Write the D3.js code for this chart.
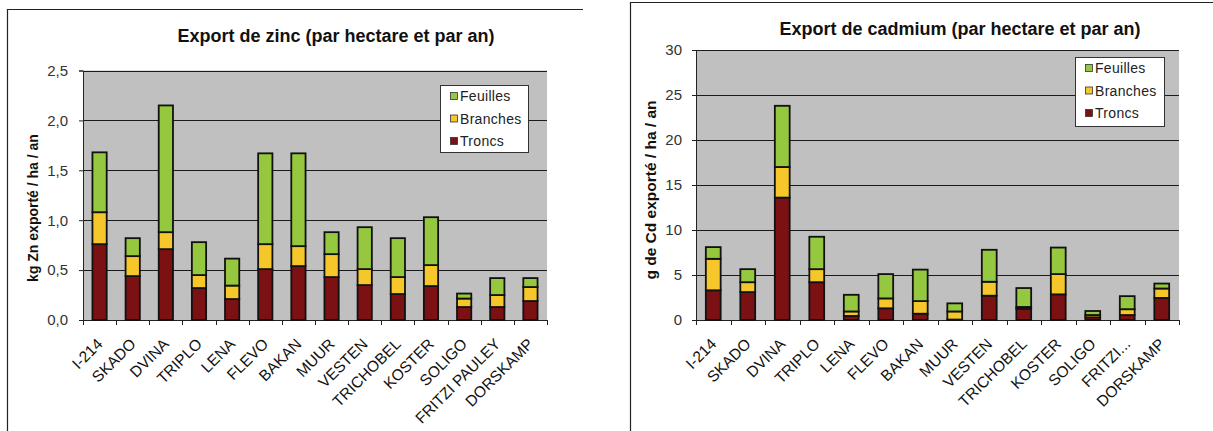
<!DOCTYPE html>
<html><head><meta charset="utf-8">
<script src="https://cdn.jsdelivr.net/npm/d3@7"></script>
<style>
html,body{margin:0;padding:0;background:#fff;}
svg{display:block;font-family:Arial,"Liberation Sans",sans-serif;}
</style></head>
<body>
<svg id="c" width="1213" height="431"></svg>
<script>
const categories = ["I-214","SKADO","DVINA","TRIPLO","LENA","FLEVO","BAKAN","MUUR","VESTEN","TRICHOBEL","KOSTER","SOLIGO","FRITZI PAULEY","DORSKAMP"];
const categoriesCd = ["I-214","SKADO","DVINA","TRIPLO","LENA","FLEVO","BAKAN","MUUR","VESTEN","TRICHOBEL","KOSTER","SOLIGO","FRITZI...","DORSKAMP"];
const seriesNames = ["Troncs","Branches","Feuilles"];

const zincTroncs   = [0.76,0.44,0.71,0.32,0.21,0.51,0.54,0.43,0.35,0.26,0.34,0.13,0.13,0.19];
const zincBranches = [0.32,0.20,0.17,0.13,0.135,0.25,0.20,0.23,0.16,0.17,0.21,0.085,0.12,0.14];
const zincFeuilles = [0.60,0.18,1.27,0.33,0.27,0.91,0.93,0.22,0.42,0.39,0.48,0.05,0.17,0.09];

const cdTroncs   = [3.3,3.1,13.6,4.2,0.45,1.3,0.7,0.05,2.7,1.25,2.85,0.3,0.55,2.45];
const cdBranches = [3.5,1.1,3.4,1.45,0.5,1.1,1.4,0.9,1.55,0.2,2.25,0.25,0.65,1.05];
const cdFeuilles = [1.3,1.45,6.8,3.6,1.85,2.7,3.5,0.9,3.55,2.1,2.95,0.45,1.45,0.55];

const zincTicks = [0,0.5,1.0,1.5,2.0,2.5];
const zincTickLabels = ["0,0","0,5","1,0","1,5","2,0","2,5"];
const cdTicks = [0,5,10,15,20,25,30];
const cdTickLabels = ["0","5","10","15","20","25","30"];

const colors = {Troncs:"#7c1114", Branches:"#f6c72a", Feuilles:"#95c83e"};

const svg = d3.select("#c");

// chart frames
svg.append("path").attr("d","M7.5,431 V9.5 H583").attr("fill","none").attr("stroke","#222").attr("stroke-width",1.2);
svg.append("path").attr("d","M630.5,431 V2.5 H1213").attr("fill","none").attr("stroke","#222").attr("stroke-width",1.2);

function drawChart(opt){
  const g = svg.append("g");
  const x = d3.scaleBand().domain(opt.cats).range([opt.x0,opt.x1]).paddingInner(0.57).paddingOuter(0.285);
  const xb = d3.scaleLinear().domain([0,opt.cats.length]).range([opt.x0,opt.x1]);
  const y = d3.scaleLinear().domain([0,opt.max]).range([opt.y0,opt.y1]);

  g.append("rect").attr("x",opt.x0).attr("y",opt.y1).attr("width",opt.x1-opt.x0).attr("height",opt.y0-opt.y1).attr("fill","#c0c0c0");

  // grid
  g.selectAll(".grid").data(opt.ticks.filter(t=>t>0)).join("line")
    .attr("x1",opt.x0).attr("x2",opt.x1)
    .attr("y1",d=>Math.round(y(d))+0.5).attr("y2",d=>Math.round(y(d))+0.5)
    .attr("stroke","#1a1a1a").attr("stroke-width",1);

  // y axis
  const yAxis = d3.axisLeft(y).tickValues(opt.ticks).tickFormat((d,i)=>opt.tickLabels[i]).tickSize(4).tickPadding(opt.tickPad);
  const ya = g.append("g").attr("transform",`translate(${opt.x0},0)`).call(yAxis);
  ya.select(".domain").attr("stroke","#222");
  ya.selectAll(".tick line").attr("stroke","#222");
  ya.selectAll("text").attr("font-size",15).attr("fill","#333").attr("font-family","Arial, 'Liberation Sans', sans-serif");

  // x axis baseline & ticks
  g.append("line").attr("x1",opt.x0).attr("x2",opt.x1).attr("y1",opt.y0+0.5).attr("y2",opt.y0+0.5).attr("stroke","#222");
  g.selectAll(".xt").data(d3.range(opt.cats.length+1)).join("line")
    .attr("x1",d=>Math.round(xb(d))+0.5).attr("x2",d=>Math.round(xb(d))+0.5)
    .attr("y1",opt.y0).attr("y2",opt.y0+5).attr("stroke","#222");

  // stacks
  const rows = opt.cats.map((c,i)=>({cat:c, Troncs:opt.tr[i], Branches:opt.br[i], Feuilles:opt.fe[i]}));
  const stack = d3.stack().keys(seriesNames)(rows);
  g.selectAll(".layer").data(stack).join("g").attr("fill",d=>colors[d.key])
    .selectAll("rect").data(d=>d).join("rect")
    .attr("x",d=>x(d.data.cat)).attr("width",x.bandwidth())
    .attr("y",d=>y(d[1])).attr("height",d=>Math.max(0,y(d[0])-y(d[1])))
    .attr("stroke","#111").attr("stroke-width",1.8);

  // x labels
  g.selectAll(".xl").data(opt.cats).join("text")
    .attr("transform",d=>`translate(${x(d)+x.bandwidth()/2+4},${opt.y0+25}) rotate(-45)`)
    .attr("text-anchor","end").attr("font-size",15.5).attr("fill","#111")
    .text(d=>d);

  // title
  g.append("text").attr("x",opt.titleX).attr("y",opt.titleY).attr("text-anchor","middle")
    .attr("font-weight","bold").attr("font-size",18).attr("fill","#111").text(opt.title);

  // y label
  g.append("text").attr("transform",`translate(${opt.ylabX},${opt.ylabY}) rotate(-90)`)
    .attr("text-anchor","middle").attr("font-weight","bold").attr("font-size",opt.ylabSize).attr("fill","#111").text(opt.ylab);

  // legend
  const lg = g.append("g").attr("transform",`translate(${opt.legX},${opt.legY})`);
  lg.append("rect").attr("x",0.5).attr("y",0.5).attr("width",opt.legW).attr("height",opt.legH).attr("fill","#fff").attr("stroke","#333");
  const legItems = ["Feuilles","Branches","Troncs"];
  legItems.forEach((k,i)=>{
    const yy = 11 + i*22.5;
    lg.append("rect").attr("x",10.5).attr("y",yy-3.5).attr("width",7).attr("height",7).attr("fill",colors[k]).attr("stroke","#333").attr("stroke-width",0.8);
    lg.append("text").attr("x",20).attr("y",yy+5).attr("font-size",14).attr("fill","#222").attr("letter-spacing",0.3).text(k);
  });
}

drawChart({cats:categories, tr:zincTroncs, br:zincBranches, fe:zincFeuilles, max:2.5,
  ticks:zincTicks, tickLabels:zincTickLabels, x0:83, x1:547, y0:320, y1:70.5, tickPad:11,
  title:"Export de zinc (par hectare et par an)", titleX:336, titleY:42,
  ylab:"kg Zn exporté  / ha / an", ylabX:38, ylabY:208, ylabSize:14,
  legX:440, legY:85, legW:88, legH:67});

drawChart({cats:categoriesCd, tr:cdTroncs, br:cdBranches, fe:cdFeuilles, max:30,
  ticks:cdTicks, tickLabels:cdTickLabels, x0:696, x1:1179, y0:320, y1:50, tickPad:10,
  title:"Export de cadmium (par hectare et par an)", titleX:960, titleY:35,
  ylab:"g de Cd exporté / ha / an", ylabX:656, ylabY:190, ylabSize:15.5,
  legX:1075, legY:57, legW:89, legH:69});
</script>
</body></html>
